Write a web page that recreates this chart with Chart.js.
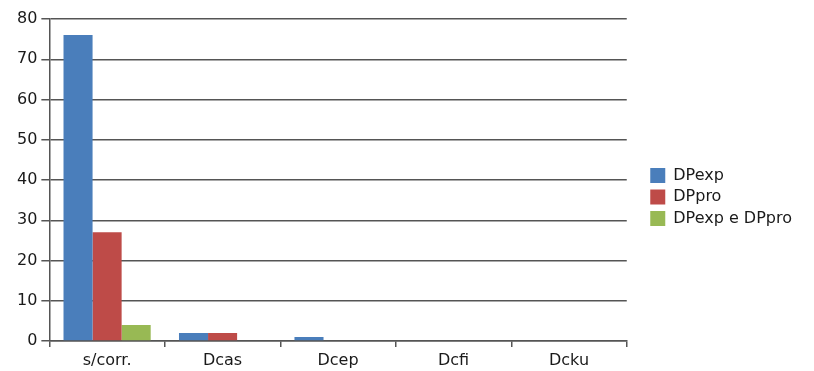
<!DOCTYPE html>
<html>
<head>
<meta charset="utf-8">
<script src="https://cdn.jsdelivr.net/npm/chart.js@4/dist/chart.umd.min.js"></script>
<style>
  body { margin: 0; background: #fff; }
  #wrap { width: 814px; height: 371px; }
</style>
</head>
<body>
<div id="wrap"><canvas id="chart" width="814" height="371"></canvas></div>
<script>
// Data
const categories = ["s/corr.", "Dcas", "Dcep", "Dcfi", "Dcku"];
const dpExp = [76, 2, 1, 0, 0];
const dpPro = [27, 2, 0, 0, 0];
const dpBoth = [4, 0, 0, 0, 0];
const yTicks = [0, 10, 20, 30, 40, 50, 60, 70, 80];

const axisColor = "#555555";
const font = { family: "'DejaVu Sans', sans-serif", size: 16 };

// push the legend a bit to the right of the plot, like the original
const legendShift = {
  id: "legendShift",
  afterLayout(chart) {
    const lg = chart.legend;
    lg.left += 18;
    lg.right += 18;
  }
};

const ctx = document.getElementById("chart").getContext("2d");

let chart = new Chart(ctx, {
  type: "bar",
  data: {
    labels: categories,
    datasets: [
      { label: "DPexp", data: dpExp, backgroundColor: "#4a7ebb" },
      { label: "DPpro", data: dpPro, backgroundColor: "#be4b48" },
      { label: "DPexp e DPpro", data: dpBoth, backgroundColor: "#98b954" }
    ]
  },
  plugins: [legendShift],
  options: {
    responsive: false,
    animation: false,
    layout: { padding: { left: 13, top: 19, right: 30, bottom: -4 } },
    datasets: {
      bar: { categoryPercentage: 0.755, barPercentage: 1.0 }
    },
    plugins: {
      tooltip: { enabled: false },
      legend: {
        position: "right",
        labels: {
          color: "#1a1a1a",
          font: font,
          boxWidth: 15,
          boxHeight: 15,
          padding: 5.5
        }
      }
    },
    scales: {
      x: {
        offset: true,
        grid: {
          offset: true,
          drawOnChartArea: false,
          drawTicks: true,
          tickLength: 6,
          lineWidth: 1.5,
          color: axisColor
        },
        border: { display: true, color: axisColor, width: 1.5 },
        ticks: { color: "#1a1a1a", font: { ...font, lineHeight: 1.0 }, padding: 6 }
      },
      y: {
        min: 0,
        max: 80,
        afterBuildTicks: axis => {
          axis.ticks = yTicks.map(v => ({ value: v }));
        },
        grid: {
          color: axisColor,
          lineWidth: 1.5,
          tickLength: 8
        },
        border: { display: true, color: axisColor, width: 1.5 },
        ticks: { color: "#1a1a1a", font: font, padding: 4 }
      }
    }
  }
});
</script>
</body>
</html>
